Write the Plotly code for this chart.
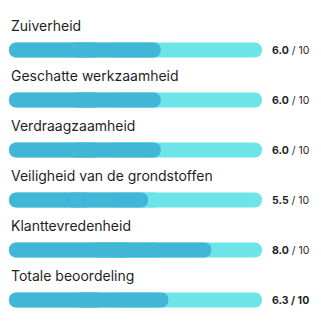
import plotly.graph_objects as go

categories = ["Zuiverheid", "Geschatte werkzaamheid", "Verdraagzaamheid",
              "Veiligheid van de grondstoffen", "Klanttevredenheid", "Totale beoordeling"]
scores = [6.0, 6.0, 6.0, 5.5, 8.0, 6.3]
max_score = 10

FONT = "Inter"
TRACK = "#6DE5E8"
FILL = "#41B6D6"
TEXT = "#1f1f1f"

fig = go.Figure()

def rounded(lengths, color):
    # two overlapping halves so that both ends get rounded corners
    right_base = [0.4 * v for v in lengths]
    right_len = [0.6 * v for v in lengths]
    left_base = [0.6 * v for v in lengths]
    left_len = [-0.6 * v for v in lengths]
    for base, ln in ((right_base, right_len), (left_base, left_len)):
        fig.add_trace(go.Bar(
            y=categories, x=ln, base=base, orientation="h", width=0.3,
            marker=dict(color=color, cornerradius="50%", line=dict(width=0)),
            hoverinfo="skip", showlegend=False,
        ))

rounded([max_score] * len(categories), TRACK)
rounded(scores, FILL)

annotations = []
for i, (c, s) in enumerate(zip(categories, scores)):
    annotations.append(dict(
        x=0, y=c, xref="x", yref="y", text=c, showarrow=False,
        xanchor="left", yanchor="middle", yshift=25,
        font=dict(family=FONT, size=14, color=TEXT),
    ))
    if i == len(categories) - 1:
        vt = f"<b>{s:.1f} / {max_score}</b>"
    else:
        vt = f"<b>{s:.1f}</b> / {max_score}"
    annotations.append(dict(
        x=1, y=c, xref="paper", yref="y", text=vt, showarrow=False,
        xanchor="left", yanchor="middle", xshift=8,
        font=dict(family=FONT, size=10.5, color=TEXT),
    ))

n = len(categories)
fig.update_layout(
    width=321, height=330,
    margin=dict(l=9, r=59, t=25, b=5, pad=0),
    barmode="overlay",
    paper_bgcolor="white", plot_bgcolor="white",
    xaxis=dict(range=[0, max_score], visible=False, fixedrange=True),
    yaxis=dict(range=[n - 0.5, -0.5], visible=False, fixedrange=True),
    annotations=annotations,
)

fig.write_html("out.html", config={"displayModeBar": False})
